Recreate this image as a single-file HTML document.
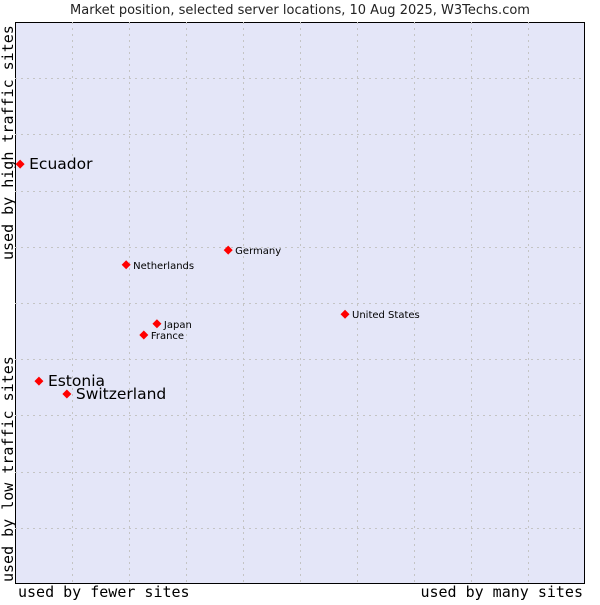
<!DOCTYPE html>
<html><head><meta charset="utf-8"><style>
body{margin:0;background:#fff;width:600px;height:600px;overflow:hidden}
svg text{font-family:"DejaVu Sans","Liberation Sans",sans-serif}
.m{font-family:"DejaVu Sans Mono","Liberation Mono",monospace}
</style></head><body>
<svg id="c" width="600" height="600">
<text x="300" y="14" text-anchor="middle" font-size="13" fill="#222">Market position, selected server locations, 10 Aug 2025, W3Techs.com</text>
<rect x="15.5" y="22.5" width="569" height="561" fill="#e4e6f8" stroke="#000"/>
<g id="grid"></g>
<g id="pts"></g>
<text class="m" x="18" y="597" font-size="15" fill="#000">used by fewer sites</text>
<text class="m" x="583" y="597" font-size="15" fill="#000" text-anchor="end">used by many sites</text>
<text class="m" transform="translate(13,260) rotate(-90)" font-size="15" fill="#000">used by high traffic sites</text>
<text class="m" transform="translate(13,582) rotate(-90)" font-size="15" fill="#000">used by low traffic sites</text>
</svg>
<script>
const names=["Ecuador","Estonia","Switzerland","Netherlands","Germany","Japan","France","United States"];
const xs=[0.9,4.2,9.1,19.5,37.4,24.9,22.6,57.9];
const ys=[74.7,36.1,33.8,56.8,59.4,46.3,44.3,48.0];
const big=[true,true,true,false,false,false,false,false];
const L=15,R=585,T=22,B=584;
const X=v=>L+v/100*(R-L), Y=v=>B-v/100*(B-T);
const ns="http://www.w3.org/2000/svg";
const g=document.getElementById('grid'),p=document.getElementById('pts');
for(let i=1;i<10;i++){
 const xx=Math.round(L+i*(R-L)/10)+0.5, yy=Math.round(T+i*(B-T)/10)+0.5;
 const a=document.createElementNS(ns,'line');
 
 
 a.setAttribute('x1',xx);a.setAttribute('x2',xx);a.setAttribute('y1',T);a.setAttribute('y2',B);
 a.setAttribute('stroke','#c4c4c4');a.setAttribute('stroke-dasharray','2,4');g.appendChild(a);
 const h=document.createElementNS(ns,'line');
 
 
 h.setAttribute('x1',L);h.setAttribute('x2',R);h.setAttribute('y1',yy);h.setAttribute('y2',yy);
 h.setAttribute('stroke','#c4c4c4');h.setAttribute('stroke-dasharray','2,4');g.appendChild(h);
}
names.forEach((n,i)=>{
 const cx=X(xs[i]),cy=Y(ys[i]);
 const d=document.createElementNS(ns,'polygon');
 
 
 d.setAttribute('points',`${cx},${cy-4.5} ${cx+4.5},${cy} ${cx},${cy+4.5} ${cx-4.5},${cy}`);
 d.setAttribute('fill','#f00');p.appendChild(d);
 const t=document.createElementNS(ns,'text');
 
 
 t.setAttribute('x',cx+(big[i]?9:7));t.setAttribute('y',cy+(big[i]?5:4));
 t.setAttribute('font-size',big[i]?15.5:10);t.setAttribute('fill','#000');
 t.textContent=n;p.appendChild(t);
});
</script>
</body></html>
